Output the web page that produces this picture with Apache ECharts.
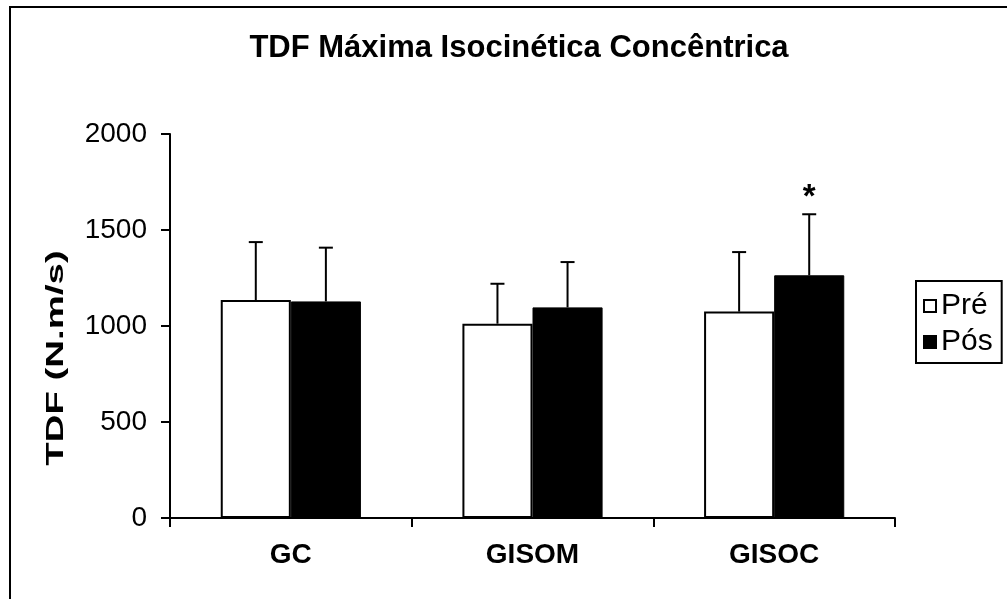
<!DOCTYPE html>
<html>
<head>
<meta charset="utf-8">
<script src="https://cdn.jsdelivr.net/npm/echarts@6/dist/echarts.min.js"></script>
<style>
html,body{margin:0;padding:0;background:#fff;}
#chart{width:1007px;height:599px;}
</style>
</head>
<body>
<div id="chart"></div>
<script>
var categories = ['GC', 'GISOM', 'GISOC'];
var preValues = [1135, 1012, 1075];
var preSD = [302, 208, 310];
var posValues = [1128, 1097, 1264];
var posSD = [280, 236, 318];
var posMarks = ['', '', '*'];
var seriesNames = ['Pré', 'Pós'];
var yTicks = { min: 0, max: 2000, interval: 500 };
var chartTitle = 'TDF Máxima Isocinética Concêntrica';
var yAxisTitle = 'TDF (N.m/s)';

var FONT = '"Liberation Sans", Arial, sans-serif';
var BAR_FRAC = 0.29;

function errorSeries(name, values, sds, side, marks) {
  var data = values.map(function (v, i) { return [i, v, sds[i], marks ? marks[i] : '']; });
  return {
    type: 'custom',
    name: name + ' DP',
    z: 5,
    silent: true,
    encode: { x: 0, y: 1 },
    data: data,
    renderItem: function (params, api) {
      var idx = api.value(0);
      var mean = api.value(1);
      var sd = api.value(2);
      var band = api.size([1, 0])[0];
      var base = api.coord([idx, mean]);
      var top = api.coord([idx, mean + sd]);
      var x = base[0] + side * band * BAR_FRAC / 2;
      var children = [
        { type: 'line', shape: { x1: x, y1: base[1], x2: x, y2: top[1] }, style: { stroke: '#000', lineWidth: 2 } },
        { type: 'line', shape: { x1: x - 7, y1: top[1], x2: x + 7, y2: top[1] }, style: { stroke: '#000', lineWidth: 2 } }
      ];
      var mark = data[params.dataIndex][3];
      if (mark) {
        children.push({ type: 'text', x: x, y: top[1] - 33, style: { text: mark, font: 'bold 33px ' + FONT, fill: '#000', align: 'center', verticalAlign: 'top' } });
      }
      return { type: 'group', children: children };
    }
  };
}

var chart = echarts.init(document.getElementById('chart'), null, { renderer: 'canvas' });
chart.setOption({
  animation: false,
  backgroundColor: '#fff',
  textStyle: { fontFamily: FONT },
  title: {
    text: chartTitle,
    left: 514,
    textAlign: 'center',
    top: 28,
    textStyle: { fontFamily: FONT, fontWeight: 'bold', fontSize: 31, color: '#000' }
  },
  graphic: [
    { type: 'rect', shape: { x: 10, y: 7, width: 1100, height: 700 }, style: { fill: 'none', stroke: '#000', lineWidth: 2 }, silent: true, z: 0 },
    { type: 'text', x: 56, y: 358, rotation: Math.PI / 2, scaleX: 1.6, scaleY: 1,
      style: { text: yAxisTitle, font: 'bold 24px ' + FONT, fill: '#000', align: 'center', verticalAlign: 'middle' }, silent: true }
  ],
  legend: {
    orient: 'vertical',
    left: 916,
    top: 281,
    itemWidth: 12,
    itemHeight: 12,
    itemGap: 6,
    padding: [10, 9, 6, 7],
    borderColor: '#000',
    borderWidth: 2,
    icon: 'rect',
    data: seriesNames,
    textStyle: { fontFamily: FONT, fontSize: 30, color: '#000' }
  },
  grid: { left: 170, right: 112, top: 134, bottom: 81, containLabel: false },
  xAxis: {
    type: 'category',
    data: categories,
    axisLine: { lineStyle: { color: '#000', width: 2 } },
    axisTick: { show: true, length: 9, lineStyle: { color: '#000', width: 2 } },
    axisLabel: { color: '#000', fontFamily: FONT, fontWeight: 'bold', fontSize: 28, margin: 23 },
    splitLine: { show: false }
  },
  yAxis: {
    type: 'value',
    min: yTicks.min,
    max: yTicks.max,
    interval: yTicks.interval,
    axisLine: { show: true, lineStyle: { color: '#000', width: 2 } },
    axisTick: { show: true, length: 9, lineStyle: { color: '#000', width: 2 } },
    axisLabel: { color: '#000', fontFamily: FONT, fontSize: 28, margin: 23, formatter: function (v) { return String(v); } },
    splitLine: { show: false }
  },
  series: [
    {
      type: 'bar', name: seriesNames[0], data: preValues,
      barWidth: (BAR_FRAC * 100) + '%', barGap: '0%',
      itemStyle: { color: '#fff', borderColor: '#000', borderWidth: 2 }
    },
    {
      type: 'bar', name: seriesNames[1], data: posValues,
      barWidth: (BAR_FRAC * 100) + '%', barGap: '0%',
      itemStyle: { color: '#000', borderColor: '#000', borderWidth: 1 }
    },
    errorSeries(seriesNames[0], preValues, preSD, -1, null),
    errorSeries(seriesNames[1], posValues, posSD, 1, posMarks)
  ]
});
</script>
</body>
</html>
